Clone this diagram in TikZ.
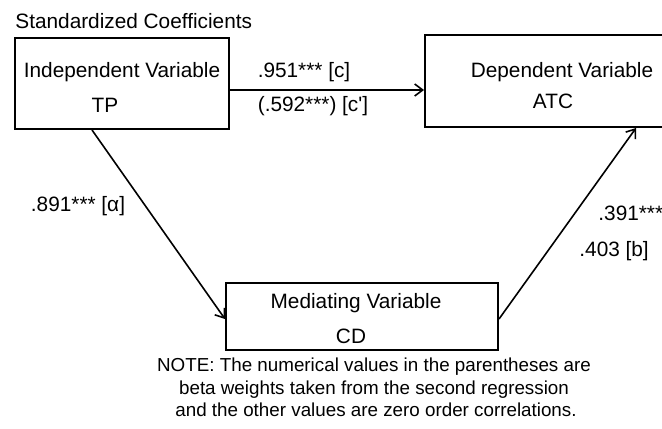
\documentclass[tikz,border=0pt]{standalone}
\usepackage{fontspec}
\setmainfont{Liberation Sans}
\newfontfamily\libfont{Liberation Sans}
\usetikzlibrary{arrows.meta,calc}
\begin{document}
\begin{tikzpicture}[x=0.5pt,y=-0.5pt,
  box/.style={draw=black,line width=1pt,inner sep=0pt,minimum width=#1},
  lbl/.style={inner sep=0pt,font=\libfont\fontsize{10.4pt}{12pt}\selectfont,text=black},
  note/.style={inner sep=0pt,font=\libfont\fontsize{9.4pt}{11pt}\selectfont,text=black},
  arr/.style={draw=black,line width=0.8pt,-{Straight Barb[length=4pt,width=6pt,line width=0.8pt]}}]
\useasboundingbox (0,0) rectangle (662,428);
\clip (0,0) rectangle (662,428);
% boxes
\node[box=107pt,minimum height=45.5pt] (iv) at (122,83.5) {};
\node[box=137.5pt,minimum height=46pt] (dv) at (562.5,81) {};
\node[box=136pt,minimum height=33.5pt] (mv) at (362,316.5) {};
% box texts
\node[lbl,anchor=base west] (title) at (15,28) {Standardized Coefficients};
\node[lbl,anchor=base] (ivt) at (122,77) {Independent Variable};
\node[lbl,anchor=base] (ivs) at (105,112) {TP};
\node[lbl,anchor=base] (dvt) at (562,77) {Dependent Variable};
\node[lbl,anchor=base] (dvs) at (553,108) {ATC};
\node[lbl,anchor=base] (mvt) at (356,308) {Mediating Variable};
\node[lbl,anchor=base] (mvs) at (351,343) {CD};
% connectors
\coordinate (c1) at ($(iv.south west)+(78,0)$);
\coordinate (c2) at ($(mv.north west)+(0,37)$);
\coordinate (c3) at ($(mv.north east)+(0,37)$);
\coordinate (c4) at ($(dv.south west)+(212,0)$);
\draw[arr] (iv.east |- 0,90) -- (dv.west |- 0,90);
\draw[arr] (c1) -- (c2);
\draw[arr] (c3) -- (c4);
% edge labels
\node[lbl,anchor=base] (lc) at (304,77) {.951*** [c]};
\node[lbl,anchor=base] (lcp) at (313,111) {(.592***) [c']};
\node[lbl,anchor=base] (la) at (78,211) {.891*** [α]};
\node[lbl,anchor=base west] (lb1) at (598,220) {.391***};
\node[lbl,anchor=base west] (lb2) at (579,256) {.403 [b]};
% note
\node[note,anchor=base] (n1) at (374,371) {NOTE: The numerical values in the parentheses are};
\node[note,anchor=base] (n2) at (374,394) {beta weights taken from the second regression};
\node[note,anchor=base] (n3) at (376,416) {and the other values are zero order correlations.};
\end{tikzpicture}
\end{document}
